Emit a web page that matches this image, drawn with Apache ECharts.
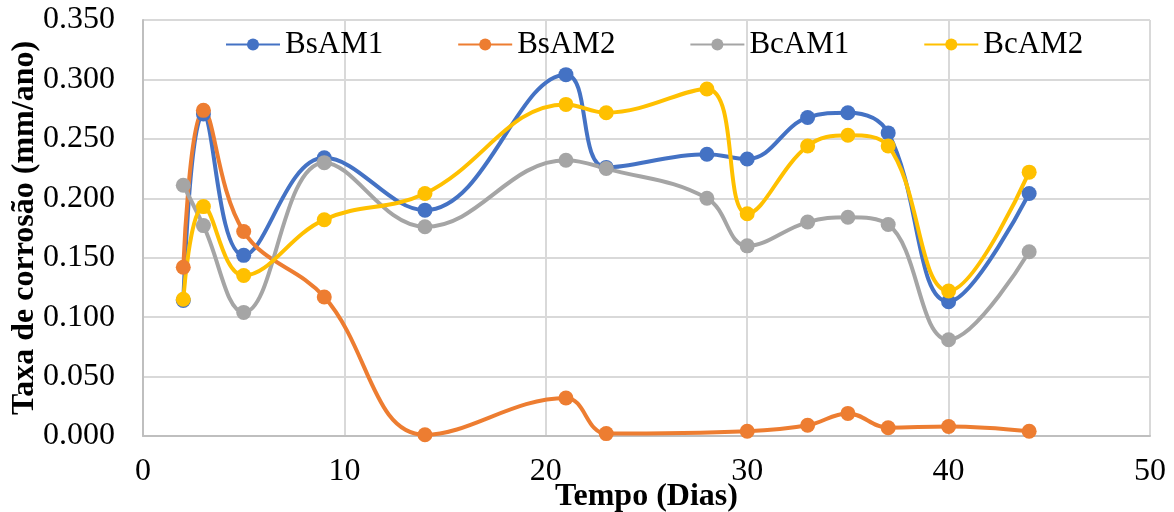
<!DOCTYPE html>
<html>
<head>
<meta charset="utf-8">
<script src="https://cdn.jsdelivr.net/npm/echarts@6/dist/echarts.min.js"></script>
<style>html,body{margin:0;padding:0;background:#fff;}#c{width:1174px;height:512px;}</style>
</head>
<body>
<div id="c"></div>
<script>
const days = [2, 3, 5, 9, 14, 21, 23, 28, 30, 33, 35, 37, 40, 44];
const bsAM1 = [0.114, 0.271, 0.152, 0.234, 0.190, 0.304, 0.226, 0.237, 0.233, 0.268, 0.272, 0.255, 0.113, 0.204];
const bsAM2 = [0.142, 0.274, 0.172, 0.117, 0.001, 0.032, 0.002, null, 0.004, 0.009, 0.019, 0.007, 0.008, 0.004];
const bcAM1 = [0.211, 0.177, 0.104, 0.230, 0.176, 0.232, 0.225, 0.200, 0.160, 0.180, 0.184, 0.178, 0.081, 0.155];
const bcAM2 = [0.115, 0.193, 0.135, 0.182, 0.204, 0.279, 0.272, 0.292, 0.187, 0.244, 0.253, 0.244, 0.122, 0.222];
const seriesNames = ['BsAM1', 'BsAM2', 'BcAM1', 'BcAM2'];
const seriesValues = [bsAM1, bsAM2, bcAM1, bcAM2];
const colors = ['#4472C4', '#ED7D31', '#A5A5A5', '#FFC000'];

const font = "'Liberation Serif', 'Times New Roman', serif";
const chart = echarts.init(document.getElementById('c'));
chart.setOption({
  animation: false,
  color: colors,
  textStyle: { fontFamily: font },
  grid: { left: 143, right: 24, top: 20, bottom: 76, containLabel: false, outerBoundsMode: 'none' },
  legend: {
    top: 24, left: 220, itemWidth: 54, itemHeight: 15, itemGap: 74,
    textStyle: { fontFamily: font, fontSize: 31, color: '#000' },
    data: seriesNames
  },
  xAxis: {
    type: 'value', min: 0, max: 50, interval: 10,
    name: 'Tempo (Dias)', nameLocation: 'middle', nameGap: 45, nameMoveOverlap: false,
    nameTextStyle: { fontFamily: font, fontSize: 32, fontWeight: 'bold', color: '#000' },
    axisLine: { lineStyle: { color: '#BFBFBF', width: 2 } },
    axisTick: { show: false },
    axisLabel: { fontFamily: font, fontSize: 32, color: '#000', margin: 20 },
    splitLine: { lineStyle: { color: '#D9D9D9', width: 2 } }
  },
  yAxis: {
    type: 'value', min: 0, max: 0.35, interval: 0.05,
    name: 'Taxa de corrosão (mm/ano)', nameLocation: 'middle', nameGap: 102, nameMoveOverlap: false,
    nameTextStyle: { fontFamily: font, fontSize: 32, fontWeight: 'bold', color: '#000' },
    axisLine: { show: true, lineStyle: { color: '#BFBFBF', width: 2 } },
    axisTick: { show: false },
    axisLabel: { fontFamily: font, fontSize: 32, color: '#000', margin: 28, formatter: v => v.toFixed(3) },
    splitLine: { lineStyle: { color: '#D9D9D9', width: 2 } }
  },
  series: seriesNames.map((n, i) => ({
    name: n, type: 'line', smooth: 0.4,
    symbol: 'circle', symbolSize: 15,
    lineStyle: { width: 4, color: colors[i] },
    itemStyle: { color: colors[i] },
    data: days.map((d, k) => [d, seriesValues[i][k]]).filter(p => p[1] !== null)
  }))
});
</script>
</body>
</html>
